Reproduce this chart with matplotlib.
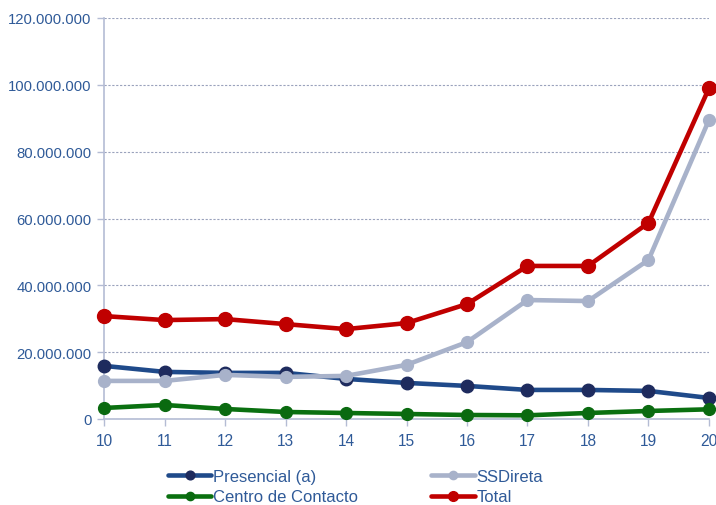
import matplotlib
matplotlib.use("Agg")
import matplotlib.pyplot as plt
from matplotlib.ticker import FuncFormatter

plt.rcParams['font.family'] = ['Liberation Sans', 'DejaVu Sans']

years = [10, 11, 12, 13, 14, 15, 16, 17, 18, 19, 20]
presencial = [15.9e6, 14.1e6, 13.8e6, 13.8e6, 12.0e6, 10.8e6, 9.9e6, 8.7e6, 8.7e6, 8.4e6, 6.3e6]
ssdireta = [11.4e6, 11.4e6, 13.2e6, 12.6e6, 12.9e6, 16.2e6, 23.0e6, 35.6e6, 35.3e6, 47.6e6, 89.5e6]
contacto = [3.3e6, 4.2e6, 3.0e6, 2.1e6, 1.8e6, 1.5e6, 1.2e6, 1.1e6, 1.8e6, 2.4e6, 2.9e6]
total = [30.8e6, 29.6e6, 29.9e6, 28.4e6, 26.9e6, 28.7e6, 34.4e6, 45.8e6, 45.8e6, 58.7e6, 99.0e6]

y_ticks = [0, 20e6, 40e6, 60e6, 80e6, 100e6, 120e6]

text_col = '#2F5A98'
axis_col = '#B4BCD4'

fig = plt.figure(figsize=(7.16, 5.06), dpi=100)
ax = fig.add_axes([104 / 716, 1 - 420 / 506, (709 - 104) / 716, (420 - 19) / 506])

series = [
    ('Presencial (a)', presencial, '#1F4A8A', '#1E2B5E', 9),
    ('SSDireta', ssdireta, '#A8B2CA', '#A8B2CA', 8.5),
    ('Centro de Contacto', contacto, '#0A7010', '#0A6A10', 8.5),
    ('Total', total, '#C00000', '#C00000', 10),
]
handles = {}
for name, vals, lc, mc, ms in series:
    h, = ax.plot(years, vals, color=lc, lw=3.3, marker='o', ms=ms,
                 markerfacecolor=mc, markeredgecolor=mc, label=name,
                 solid_capstyle='round', clip_on=False, zorder=3)
    handles[name] = h

ax.set_xlim(10, 20)
ax.set_ylim(0, 120e6)
ax.set_xticks(years)
ax.set_yticks(y_ticks)
ax.yaxis.set_major_formatter(FuncFormatter(lambda v, p: f"{int(v):,}".replace(',', '.')))

ax.grid(axis='y', color='#9AA2BC', lw=0.8, ls=(0, (2, 1.5)))
ax.set_axisbelow(True)
for s in ['top', 'right']:
    ax.spines[s].set_visible(False)
for s in ['left', 'bottom']:
    ax.spines[s].set_color(axis_col)
    ax.spines[s].set_linewidth(1.2)
ax.tick_params(axis='both', colors=axis_col, labelcolor=text_col, labelsize=10.7,
               length=5, width=1)
ax.tick_params(axis='x', pad=5, labelsize=11.2)
ax.tick_params(axis='y', pad=4)

order = ['Presencial (a)', 'Centro de Contacto', 'SSDireta', 'Total']
leg = fig.legend([handles[n] for n in order], order, ncol=2, frameon=False,
                 loc='upper left', bbox_to_anchor=(168 / 716, 1 - 470 / 506),
                 fontsize=12, handlelength=2.6, handletextpad=0.1,
                 columnspacing=4.4, labelspacing=0.32, borderpad=0,
                 borderaxespad=0, markerscale=0.7)
for t in leg.get_texts():
    t.set_color(text_col)

fig.savefig('out.png', dpi=100)
